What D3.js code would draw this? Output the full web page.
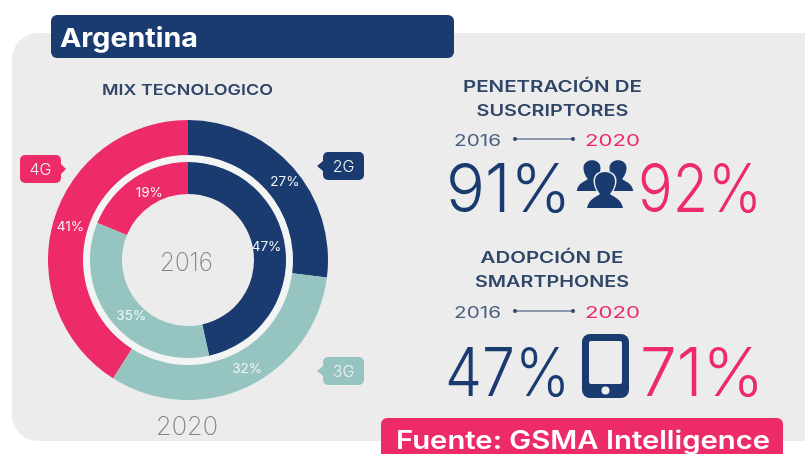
<!DOCTYPE html>
<html>
<head>
<meta charset="utf-8">
<script src="https://cdn.jsdelivr.net/npm/d3@7"></script>
<style>
html, body { margin: 0; padding: 0; background: #fff; overflow: hidden; }
text { font-family: Inter, "Open Sans", sans-serif; }
svg { filter: blur(0.5px); }
</style>
</head>
<body>
<div id="chart"></div>
<script>
const WIDTH = 805, HEIGHT = 454

const categories = ['2G', '3G', '4G']
const mix2016 = [47, 35, 19]
const mix2020 = [27, 32, 41]
const years = ['2016', '2020']
const subscribers = [91, 92]
const smartphones = [47, 71]

const NAVY = '#1a3b70', PINK = '#ec2b68', TEAL = '#96c4c0', PANEL = '#ececec'
const color = d3.scaleOrdinal().domain(categories).range([NAVY, TEAL, PINK])

const svg = d3.select('#chart').append('svg')
	.attr('width', WIDTH)
	.attr('height', HEIGHT)
	.style('display', 'block')

// stretch a text to the width it has in the original
function fit(sel, w) {
	return sel.attr('textLength', w).attr('lengthAdjust', 'spacingAndGlyphs')
}

// ─── BACKGROUND AND BANNERS ──────────────────────────────────────
svg.append('rect').attr('x', 12).attr('y', 33).attr('width', 830).attr('height', 408)
	.attr('rx', 26).attr('fill', PANEL)
svg.append('rect').attr('x', 51).attr('y', 15).attr('width', 403).attr('height', 43)
	.attr('rx', 6).attr('fill', NAVY)
fit(svg.append('text').attr('x', 60).attr('y', 47)
	.attr('font-size', 26).attr('font-weight', 700).attr('fill', '#fff').text('Argentina'), 138)

fit(svg.append('text').attr('x', 102).attr('y', 95)
	.attr('font-size', 14.5).attr('font-weight', 600).attr('fill', '#2f4668')
	.text('MIX TECNOLOGICO'), 171)

// ─── DONUTS ──────────────────────────────────────────────────────
const g = svg.append('g').attr('transform', 'translate(188,260)')
const pie = d3.pie().sort(null)

function ring(values, inner, outer, nudge) {
	const arc = d3.arc().innerRadius(inner).outerRadius(outer)
	const slices = pie(values)
	g.selectAll(null).data(slices).enter().append('path')
		.attr('d', arc)
		.attr('fill', (d, i) => color(categories[i]))
	g.selectAll(null).data(slices).enter().append('text')
		.attr('transform', (d, i) => {
			const c = arc.centroid(d)
			return `translate(${c[0] + nudge[i][0]},${c[1] + nudge[i][1]})`
		})
		.attr('text-anchor', 'middle')
		.attr('dy', '0.35em')
		.attr('font-size', 13.5)
		.attr('fill', '#f1f5f7')
		.text(d => d.value + '%')
}
// labels sit a bit off the centroids in the original
ring(mix2020, 105, 140, [[5, 2], [7, -3], [0, 0]])
ring(mix2016, 66, 98, [[-3, -5], [6, 2], [7, 0]])

// pale band between the two rings
g.append('circle').attr('r', 101.5).attr('fill', 'none').attr('stroke', '#f3f5f5').attr('stroke-width', 6)

fit(g.append('text').attr('x', -28).attr('y', 11)
	.attr('font-size', 26).attr('font-weight', 200).attr('fill', '#808388').text(years[0]), 53)
fit(g.append('text').attr('x', -32).attr('y', 175)
	.attr('font-size', 26).attr('font-weight', 200).attr('fill', '#808388').text(years[1]), 62)

// ─── TAGS ────────────────────────────────────────────────────────
function tag(name, x, y, side) {
	const w = 41, h = 28, mid = y + h / 2
	const tip = side === 'left'
		? `M${x},${mid - 5}L${x - 6},${mid}L${x},${mid + 5}Z`
		: `M${x + w},${mid - 5}L${x + w + 5},${mid}L${x + w},${mid + 5}Z`
	svg.append('rect').attr('x', x).attr('y', y).attr('width', w).attr('height', h)
		.attr('rx', 5).attr('fill', color(name))
	svg.append('path').attr('d', tip).attr('fill', color(name))
	svg.append('text').attr('x', x + w / 2).attr('y', mid + 6).attr('text-anchor', 'middle')
		.attr('font-size', 16).attr('font-weight', 300).attr('fill', '#eef2f5').text(name)
}
tag('4G', 20, 155, 'right')
tag('2G', 323, 152, 'left')
tag('3G', 323, 357, 'left')

// ─── RIGHT COLUMN ────────────────────────────────────────────────
function stat(lines, widths, cx, top, ty, by, values, x0, x1) {
	lines.forEach((l, i) => {
		fit(svg.append('text').attr('x', cx - widths[i] / 2).attr('y', top + i * 24)
			.attr('font-size', 15.5).attr('font-weight', 600).attr('fill', '#2f4668').text(l), widths[i])
	})
	fit(svg.append('text').attr('x', 454).attr('y', ty).attr('font-size', 15.5)
		.attr('fill', '#4a5f80').text(years[0]), 47)
	fit(svg.append('text').attr('x', 585).attr('y', ty).attr('font-size', 15.5)
		.attr('fill', PINK).text(years[1]), 55)
	svg.append('line').attr('x1', 515).attr('x2', 573).attr('y1', ty - 7).attr('y2', ty - 7)
		.attr('stroke', '#2f4668').attr('stroke-width', 1)
	svg.selectAll(null).data([515, 573]).enter().append('circle')
		.attr('cx', d => d).attr('cy', ty - 7).attr('r', 2).attr('fill', '#2f4668')
	fit(svg.append('text').attr('x', x0).attr('y', by).attr('font-size', 67).attr('font-weight', 300)
		.attr('fill', NAVY).text(values[0] + '%'), 125)
	fit(svg.append('text').attr('x', x1).attr('y', by).attr('font-size', 67).attr('font-weight', 300)
		.attr('fill', PINK).text(values[1] + '%'), 124)
}
stat(['PENETRACIÓN DE', 'SUSCRIPTORES'], [179, 152], 552.5, 92, 146, 212, subscribers, 446, 638)
stat(['ADOPCIÓN DE', 'SMARTPHONES'], [143, 154], 552, 263, 318, 396, smartphones, 445, 640)

// people icon
function person(x, y, s, outlined) {
	const p = svg.append('g').attr('transform', `translate(${x},${y}) scale(${s})`)
	const body = 'M-10,-13 C-10,-25 10,-25 10,-13 C10,-7 7,-3 5,0 C8,3 16,4 18,14 L-18,14 C-16,4 -8,3 -5,0 C-7,-3 -10,-7 -10,-13 Z'
	p.append('path').attr('d', body).attr('fill', NAVY)
		.attr('stroke', outlined ? PANEL : 'none').attr('stroke-width', 3).attr('paint-order', 'stroke')
}
person(592, 179, 0.85, false)
person(618, 179, 0.85, false)
person(605, 194, 1, true)

// phone icon
svg.append('rect').attr('x', 582).attr('y', 334).attr('width', 47).attr('height', 64)
	.attr('rx', 8).attr('fill', NAVY)
svg.append('rect').attr('x', 589).attr('y', 341).attr('width', 33).attr('height', 43)
	.attr('rx', 2).attr('fill', PANEL)
svg.append('circle').attr('cx', 605.5).attr('cy', 390.5).attr('r', 4).attr('fill', PANEL)

// ─── SOURCE BANNER ───────────────────────────────────────────────
svg.append('rect').attr('x', 381).attr('y', 418).attr('width', 402).attr('height', 50)
	.attr('rx', 6).attr('fill', PINK)
fit(svg.append('text').attr('x', 396).attr('y', 449).attr('font-size', 25).attr('font-weight', 600)
	.attr('fill', '#fff').text('Fuente: GSMA Intelligence'), 374)
</script>
</body>
</html>
